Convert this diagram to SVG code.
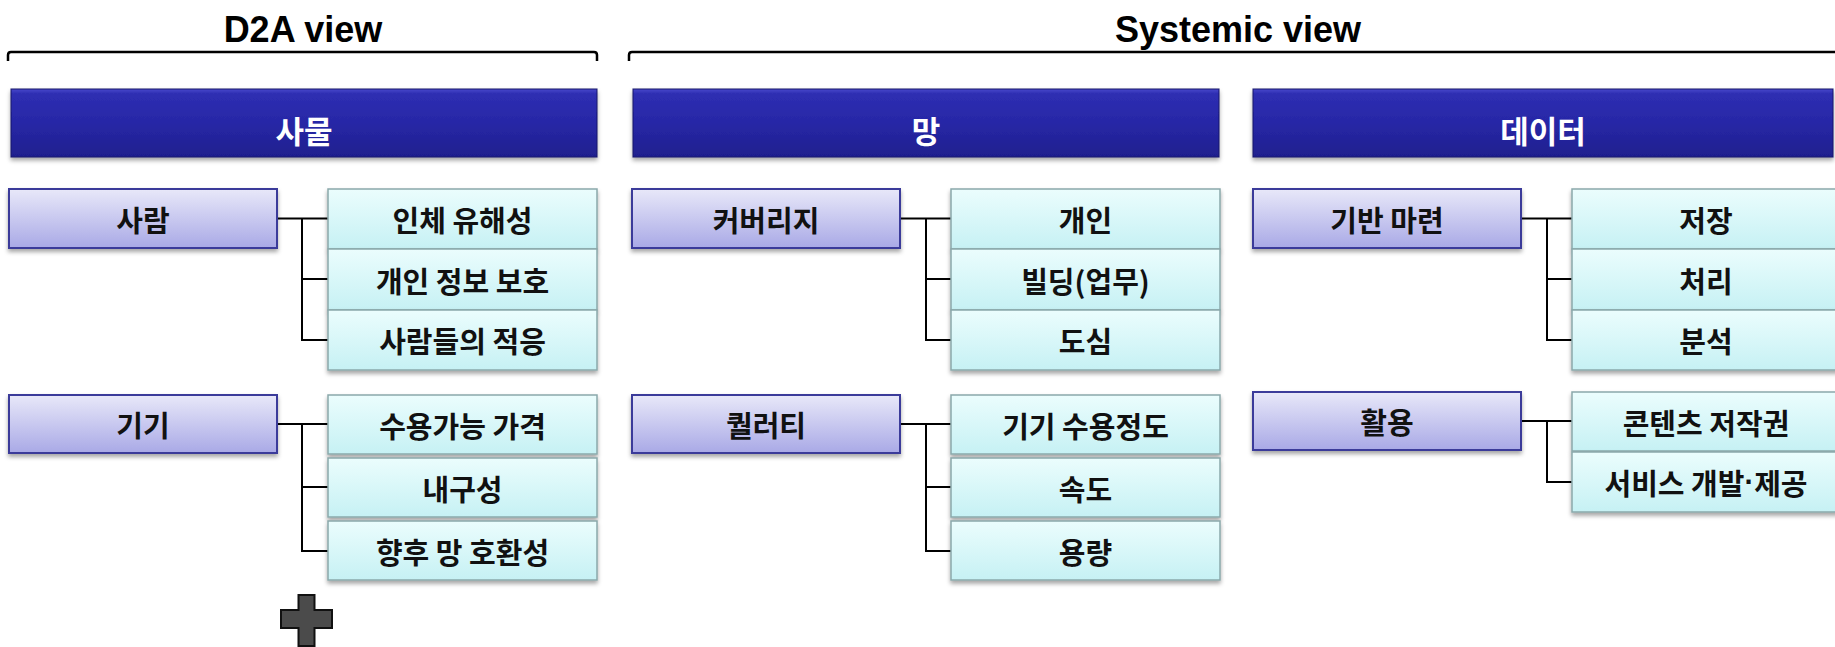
<svg xmlns="http://www.w3.org/2000/svg" width="1835" height="647" viewBox="0 0 1835 647">
<defs>
<linearGradient id="gHead" x1="0" y1="0" x2="0" y2="1">
<stop offset="0" stop-color="#4848cc"/>
<stop offset="0.07" stop-color="#2e2eb2"/>
<stop offset="0.5" stop-color="#2727a6"/>
<stop offset="1" stop-color="#1f1f8e"/>
</linearGradient>
<linearGradient id="gSub" x1="0" y1="0" x2="0" y2="1">
<stop offset="0" stop-color="#e8e8f9"/>
<stop offset="1" stop-color="#a9a9e6"/>
</linearGradient>
<linearGradient id="gLeaf" x1="0" y1="0" x2="0" y2="1">
<stop offset="0" stop-color="#ebfdfd"/>
<stop offset="1" stop-color="#c6f1f4"/>
</linearGradient>
<filter id="sh" x="-5%" y="-20%" width="110%" height="150%">
<feDropShadow dx="0" dy="3" stdDeviation="2" flood-color="#000" flood-opacity="0.35"/>
</filter>
</defs>
<style>
.view{font-family:"Liberation Sans",Arial,sans-serif;font-weight:bold;font-size:36px;fill:#000;text-anchor:middle}
.brk{fill:none;stroke:#000;stroke-width:2.5}
.head rect{fill:url(#gHead);stroke:#17176a;stroke-width:1;filter:url(#sh)}
.head text{font-family:"Noto Sans CJK KR",sans-serif;font-weight:bold;font-size:31px;fill:#fff;text-anchor:middle;dominant-baseline:central}
.sub rect{fill:url(#gSub);stroke:#3a3a9a;stroke-width:2;filter:url(#sh)}
.leaf rect{fill:url(#gLeaf);stroke:#8aa8ab;stroke-width:1.5;filter:url(#sh)}
.sub text,.leaf text{font-family:"Noto Sans CJK KR",sans-serif;font-weight:bold;font-size:29px;fill:#111;text-anchor:middle;dominant-baseline:central}
.dot{font-family:"Liberation Sans",Arial,sans-serif}
.conn path{fill:none;stroke:#000;stroke-width:2}
</style>

<rect width="1835" height="647" fill="#fff"/>

<g id="view-labels">
<text class="view" x="303" y="42">D2A view</text>
<text class="view" x="1238" y="42">Systemic view</text>
<path class="brk" d="M8,61 V55 Q8,52 11,52 H594 Q597,52 597,55 V61"/>
<path class="brk" d="M629,61 V55 Q629,52 632,52 H1840"/>
</g>

<g id="connectors" class="conn">
<path d="M277,218.5 H328 M302,218.5 V340 H328 M302,279 H328"/>
<path d="M277,424 H328 M302,424 V551 H328 M302,487 H328"/>
<path d="M900,218.5 H951 M926,218.5 V340 H951 M926,279 H951"/>
<path d="M900,424 H951 M926,424 V551 H951 M926,487 H951"/>
<path d="M1521,218.5 H1572 M1547,218.5 V340 H1572 M1547,279 H1572"/>
<path d="M1521,421 H1572 M1547,421 V482 H1572"/>
</g>

<!-- Column 1 -->
<g id="h-samul" class="head"><rect x="11" y="89" width="586" height="68"/><text x="304" y="129">사물</text></g>
<g id="s-saram" class="sub"><rect x="9" y="189" width="268" height="59"/><text x="143" y="218.5">사람</text></g>
<g id="l-1" class="leaf"><rect x="328" y="189" width="269" height="60"/><text x="462.5" y="219">인체 유해성</text></g>
<g id="l-2" class="leaf"><rect x="328" y="249" width="269" height="61"/><text x="462.5" y="279.5">개인 정보 보호</text></g>
<g id="l-3" class="leaf"><rect x="328" y="310" width="269" height="60"/><text x="462.5" y="340">사람들의 적응</text></g>
<g id="s-gigi" class="sub"><rect x="9" y="395" width="268" height="58"/><text x="143" y="424">기기</text></g>
<g id="l-4" class="leaf"><rect x="328" y="395" width="269" height="59"/><text x="462.5" y="424.5">수용가능 가격</text></g>
<g id="l-5" class="leaf"><rect x="328" y="458" width="269" height="59"/><text x="462.5" y="487.5">내구성</text></g>
<g id="l-6" class="leaf"><rect x="328" y="521" width="269" height="59"/><text x="462.5" y="550.5">향후 망 호환성</text></g>

<g id="plus">
<path d="M298.5,595 H314.5 V610 H332 V628 H314.5 V646 H298.5 V628 H281 V610 H298.5 Z" fill="#4b4b4b" stroke="#111" stroke-width="2"/>
</g>

<!-- Column 2 -->
<g id="h-mang" class="head"><rect x="633" y="89" width="586" height="68"/><text x="926" y="129">망</text></g>
<g id="s-coverage" class="sub"><rect x="632" y="189" width="268" height="59"/><text x="766" y="218.5">커버리지</text></g>
<g id="l-7" class="leaf"><rect x="951" y="189" width="269" height="60"/><text x="1085.5" y="219">개인</text></g>
<g id="l-8" class="leaf"><rect x="951" y="249" width="269" height="61"/><text x="1085.5" y="279.5">빌딩(업무)</text></g>
<g id="l-9" class="leaf"><rect x="951" y="310" width="269" height="60"/><text x="1085.5" y="340">도심</text></g>
<g id="s-quality" class="sub"><rect x="632" y="395" width="268" height="58"/><text x="766" y="424">퀄러티</text></g>
<g id="l-10" class="leaf"><rect x="951" y="395" width="269" height="59"/><text x="1085.5" y="424.5">기기 수용정도</text></g>
<g id="l-11" class="leaf"><rect x="951" y="458" width="269" height="59"/><text x="1085.5" y="487.5">속도</text></g>
<g id="l-12" class="leaf"><rect x="951" y="521" width="269" height="59"/><text x="1085.5" y="550.5">용량</text></g>

<!-- Column 3 -->
<g id="h-data" class="head"><rect x="1253" y="89" width="580" height="68"/><text x="1543" y="129">데이터</text></g>
<g id="s-base" class="sub"><rect x="1253" y="189" width="268" height="59"/><text x="1387" y="218.5">기반 마련</text></g>
<g id="l-13" class="leaf"><rect x="1572" y="189" width="270" height="60"/><text x="1706" y="219">저장</text></g>
<g id="l-14" class="leaf"><rect x="1572" y="249" width="270" height="61"/><text x="1706" y="279.5">처리</text></g>
<g id="l-15" class="leaf"><rect x="1572" y="310" width="270" height="60"/><text x="1706" y="340">분석</text></g>
<g id="s-use" class="sub"><rect x="1253" y="392" width="268" height="58"/><text x="1387" y="421">활용</text></g>
<g id="l-16" class="leaf"><rect x="1572" y="392" width="270" height="59"/><text x="1706" y="421.5">콘텐츠 저작권</text></g>
<g id="l-17" class="leaf"><rect x="1572" y="452" width="270" height="60"/><text x="1706" y="482">서비스 개발<tspan class="dot">·</tspan>제공</text></g>
</svg>
